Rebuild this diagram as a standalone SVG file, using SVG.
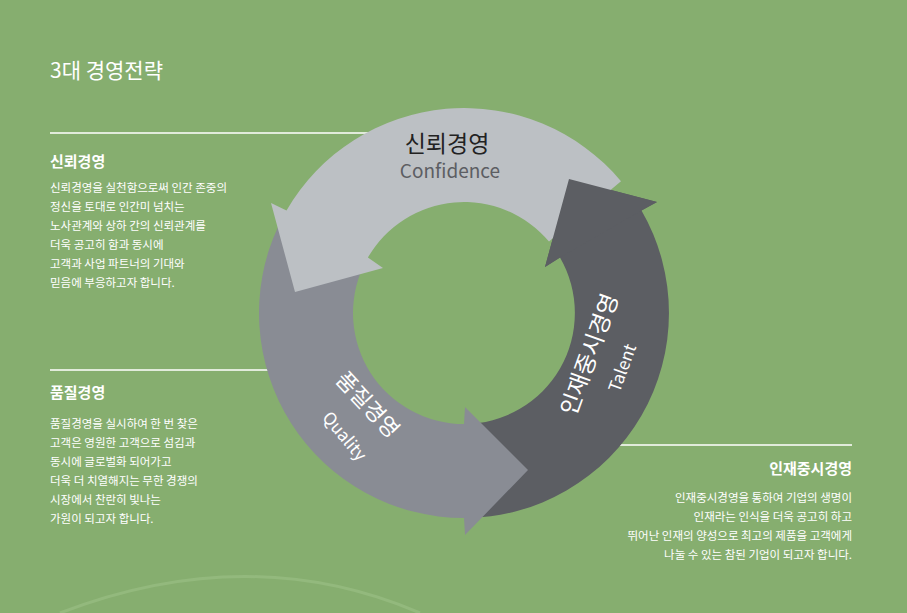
<svg xmlns="http://www.w3.org/2000/svg" width="907" height="613" viewBox="0 0 907 613">
<style>
text{font-family:"Noto Sans CJK KR","Noto Sans",sans-serif;fill:#fff}
.h{font-size:15px;font-weight:bold}
.b{font-size:11.5px}
.r{text-anchor:end}
.ln{stroke:#fff;stroke-width:1.5}
</style>
<rect width="907" height="613" fill="#86ae6f"/>
<path d="M60 613 Q250 540 420 613" fill="none" stroke="#93b97d" stroke-width="3"/>
<text x="50" y="78" font-size="21">3대 경영전략</text>
<g id="connectors">
<line class="ln" x1="50" y1="133" x2="390" y2="133"/>
<line class="ln" x1="50" y1="370" x2="290" y2="370"/>
<line class="ln" x1="597" y1="445" x2="852" y2="445"/>
</g>
<g id="cycle">
<path id="talent" fill="#5c5e63" d="M464 518 A205 205 0 0 0 641.5 210.5 L657 202 L569 179 L545 267 L560 257.5 A111 111 0 0 1 464 424 Z"/>
<path id="quality" fill="#898c94" d="M278.2 226.4 A205 205 0 0 0 464 518 L465 535 L528 470 L465 407 L464 424 A111 111 0 0 1 363.4 266.1 Z"/>
<path id="confidence" fill="#bcc0c4" d="M621 181.2 A205 205 0 0 0 286.5 210.5 L271 203 L295 292 L383 268 L367.9 257.5 A111 111 0 0 1 549 241.6 Z"/>
<path fill="#5c5e63" d="M657 202 L569 179 L545 267 L560 257.5 L641.5 210.5 Z"/>
<text x="447" y="152" font-size="23" text-anchor="middle" style="fill:#222">신뢰경영</text>
<text x="450" y="178" font-size="19" text-anchor="middle" style="fill:#5c5e63">Confidence</text>
<text transform="translate(597,357) rotate(-70)" font-size="23" text-anchor="middle">인재중시경영</text>
<text transform="translate(628,370) rotate(-70)" font-size="17" text-anchor="middle">Talent</text>
<text transform="translate(362,410) rotate(47)" font-size="22" text-anchor="middle">품질경영</text>
<text transform="translate(340,440) rotate(50)" font-size="17" text-anchor="middle">Quality</text>
</g>
<g id="n1">
<text class="h" x="50" y="167">신뢰경영</text>
<text class="b" x="50" y="192">신뢰경영을 실천함으로써 인간 존중의</text>
<text class="b" x="50" y="211">정신을 토대로 인간미 넘치는</text>
<text class="b" x="50" y="230">노사관계와 상하 간의 신뢰관계를</text>
<text class="b" x="50" y="249">더욱 공고히 함과 동시에</text>
<text class="b" x="50" y="268">고객과 사업 파트너의 기대와</text>
<text class="b" x="50" y="287">믿음에 부응하고자 합니다.</text>
</g>
<g id="n2">
<text class="h" x="50" y="398">품질경영</text>
<text class="b" x="50" y="428">품질경영을 실시하여 한 번 찾은</text>
<text class="b" x="50" y="447">고객은 영원한 고객으로 섬김과</text>
<text class="b" x="50" y="466">동시에 글로벌화 되어가고</text>
<text class="b" x="50" y="485">더욱 더 치열해지는 무한 경쟁의</text>
<text class="b" x="50" y="504">시장에서 찬란히 빛나는</text>
<text class="b" x="50" y="523">가원이 되고자 합니다.</text>
</g>
<g id="n3">
<text class="h r" x="852" y="474">인재중시경영</text>
<text class="b r" x="852" y="502">인재중시경영을 통하여 기업의 생명이</text>
<text class="b r" x="852" y="521">인재라는 인식을 더욱 공고히 하고</text>
<text class="b r" x="852" y="540">뛰어난 인재의 양성으로 최고의 제품을 고객에게</text>
<text class="b r" x="852" y="559">나눌 수 있는 참된 기업이 되고자 합니다.</text>
</g>
</svg>
